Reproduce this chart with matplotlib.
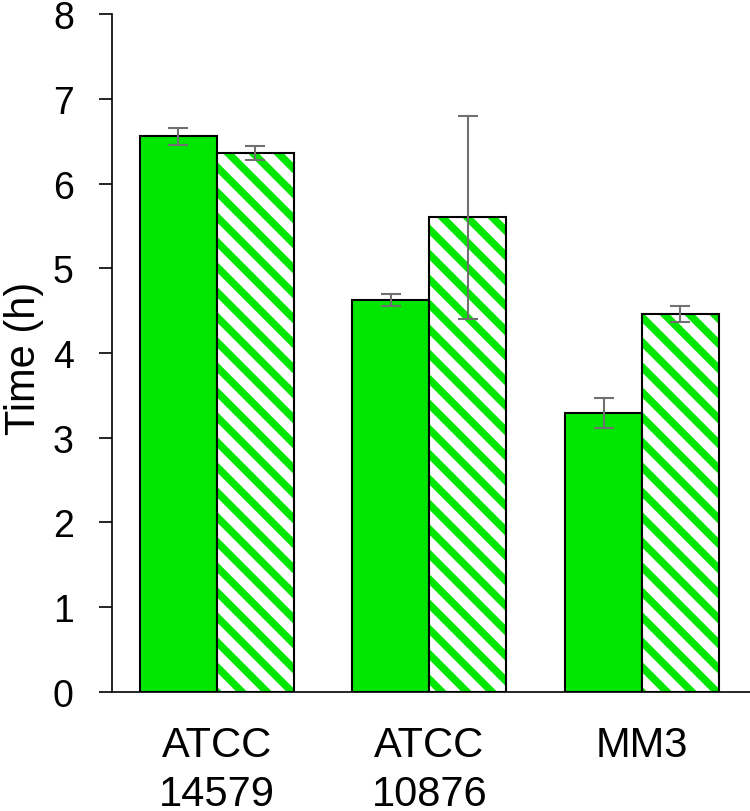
import numpy as np
import matplotlib
matplotlib.use("Agg")
import matplotlib.pyplot as plt

# ── Data ─────────────────────────────────────────────────────────────────────
strains = ["ATCC\n14579", "ATCC\n10876", "MM3"]
solid_vals = [6.56, 4.63, 3.29]
solid_err = [0.10, 0.07, 0.18]
hatch_vals = [6.36, 5.60, 4.46]
hatch_err = [0.08, 1.20, 0.09]

# ── Style ────────────────────────────────────────────────────────────────────
GREEN = "#00e600"
ERR_GRAY = "#707070"
plt.rcParams["font.family"] = ["Liberation Sans", "DejaVu Sans"]
plt.rcParams["hatch.linewidth"] = 3.6

fig = plt.figure(figsize=(5.0, 5.4133), dpi=150)
ax = fig.add_axes([0.149, 0.1466, 0.851, 0.8349])

x = np.arange(len(strains))
w = 0.362

# solid bars
ax.bar(x - w / 2, solid_vals, w, color=GREEN, edgecolor="black", linewidth=1.0, zorder=2)

# hatched bars: green stripes on white, then black outline on top
ax.bar(x + w / 2, hatch_vals, w, color="white", edgecolor=GREEN, hatch="\\\\",
       linewidth=0, zorder=2)
ax.bar(x + w / 2, hatch_vals, w, fill=False, edgecolor="black", linewidth=1.0, zorder=3)

err_kw = dict(fmt="none", ecolor=ERR_GRAY, elinewidth=1.0, capsize=5, capthick=1.0, zorder=4)
ax.errorbar(x - w / 2, solid_vals, yerr=solid_err, **err_kw)
ax.errorbar(x + w / 2, hatch_vals, yerr=hatch_err, **err_kw)

# ── Axes ─────────────────────────────────────────────────────────────────────
ax.set_ylim(0, 8)
ax.set_xlim(-0.494, 2.508)
ax.set_yticks(range(0, 9))
ax.tick_params(axis="y", direction="out", length=6.2, width=0.8, pad=12, labelsize=18)
ax.set_xticks(x)
ax.set_xticklabels(strains, fontsize=20, linespacing=1.28)
ax.tick_params(axis="x", length=0, pad=16)
ax.set_ylabel("Time (h)", fontsize=20)
ax.yaxis.set_label_coords(-0.106, 0.494)

for side in ["top", "right"]:
    ax.spines[side].set_visible(False)
for side in ["left", "bottom"]:
    ax.spines[side].set_linewidth(0.8)

fig.savefig("out.png", dpi=150)
